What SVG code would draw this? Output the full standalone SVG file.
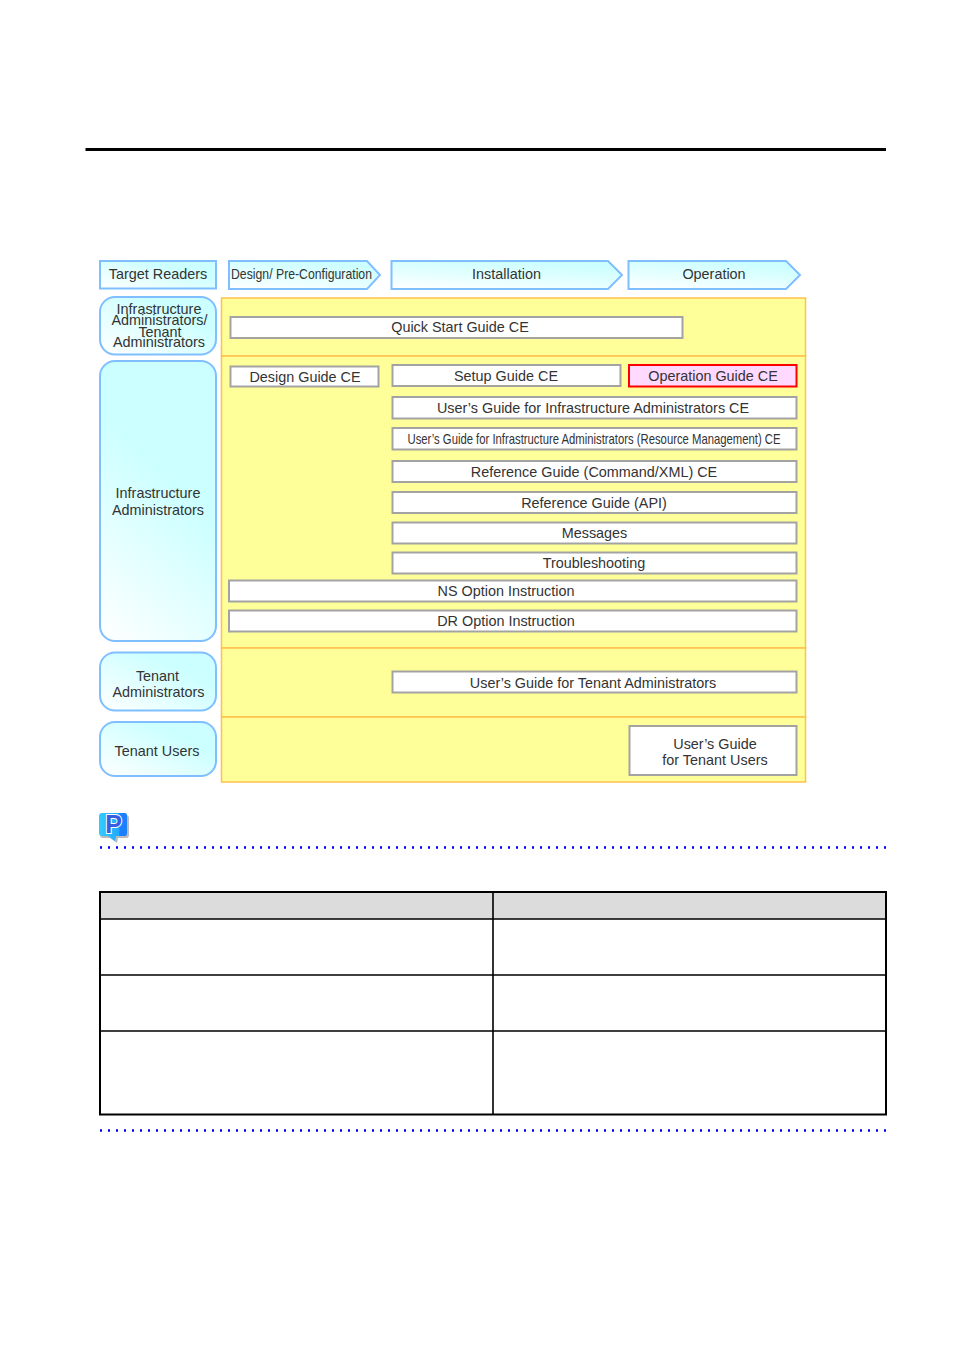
<svg xmlns="http://www.w3.org/2000/svg" width="954" height="1350" viewBox="0 0 954 1350">
<style>
text{font-family:"Liberation Sans",Arial,sans-serif;font-size:14.4px;fill:#333;text-anchor:middle}
.b{fill:#fff;stroke:#a3a3a3;stroke-width:2}
.r{fill:url(#g);stroke:#80bfff;stroke-width:2}
.a{fill:url(#h);stroke:#80bfff;stroke-width:2}
.y{fill:#ffff99;stroke:#ffc04d;stroke-width:1.5}
.d{stroke:#0000ff;stroke-width:2.400;stroke-dasharray:2 6;fill:none}
.t{stroke:#000;fill:none;stroke-width:2}
.l{stroke:#000;fill:none;stroke-width:1.600}
</style>
<defs>
<linearGradient id="g" x1="0" y1="1" x2="1" y2="0"><stop offset="0" stop-color="#ffffff"/><stop offset=".7" stop-color="#ccffff"/></linearGradient>
<linearGradient id="h" x1="0" y1="1" x2=".5" y2="0"><stop offset="0" stop-color="#ffffff"/><stop offset="1" stop-color="#ccffff"/></linearGradient>
<linearGradient id="v" gradientUnits="userSpaceOnUse" x1="100" y1="641" x2="215" y2="526"><stop offset="0" stop-color="#ffffff"/><stop offset="1" stop-color="#ccffff"/></linearGradient>
<linearGradient id="p" x1="0" y1="0" x2="1" y2="0"><stop offset="0" stop-color="#33ccff"/><stop offset=".7" stop-color="#22aaff"/><stop offset=".75" stop-color="#1a80ff"/><stop offset="1" stop-color="#1a80ff"/></linearGradient>
</defs>
<rect width="954" height="1350" fill="#fff"/>
<rect x="85.500" y="148" width="800.500" height="3" fill="#000"/>

<g id="bands">
<rect class="y" x="221.500" y="298" width="584" height="58"/>
<rect class="y" x="221.500" y="356" width="584" height="292"/>
<rect class="y" x="221.500" y="648" width="584" height="69"/>
<rect class="y" x="221.500" y="717" width="584" height="65"/>
</g>

<g id="target-readers"><rect class="r" x="100" y="261" width="116" height="27.500"/><text x="158" y="279">Target Readers</text></g>
<g id="phase-design"><path class="a" d="M229 261H367L380 275L367 289H229Z"/><text x="301.500" y="279" textLength="141" lengthAdjust="spacingAndGlyphs">Design/ Pre-Configuration</text></g>
<g id="phase-installation"><path class="a" d="M391.500 261H608L622 275L608 289H391.500Z"/><text x="506.500" y="279">Installation</text></g>
<g id="phase-operation"><path class="a" d="M628.500 261H786L800 275L786 289H628.500Z"/><text x="714" y="279">Operation</text></g>

<g id="reader-both"><rect class="r" x="100" y="297" width="116" height="57.500" rx="15"/>
<text x="159" y="314">Infrastructure</text><text x="159.500" y="325">Administrators/</text><text x="160" y="337">Tenant</text><text x="159" y="347">Administrators</text></g>
<g id="reader-infra"><rect x="100" y="361" width="116" height="280" rx="15" fill="url(#v)" stroke="#80bfff" stroke-width="2"/>
<text x="158" y="498">Infrastructure</text><text x="158" y="515">Administrators</text></g>
<g id="reader-tenant-admin"><rect class="r" x="100" y="652.500" width="116" height="58" rx="15"/>
<text x="157.500" y="681">Tenant</text><text x="158.500" y="697">Administrators</text></g>
<g id="reader-tenant-users"><rect class="r" x="100" y="722" width="116" height="54" rx="15"/><text x="157" y="756">Tenant Users</text></g>

<g id="quick-start"><rect class="b" x="230.500" y="317" width="452" height="21"/><text x="460" y="332">Quick Start Guide CE</text></g>
<g id="design-guide"><rect class="b" x="230.500" y="366.500" width="148" height="20"/><text x="305" y="382">Design Guide CE</text></g>
<g id="setup-guide"><rect class="b" x="392.500" y="365" width="228" height="21"/><text x="506" y="381">Setup Guide CE</text></g>
<g id="operation-guide"><rect x="629" y="365" width="167.500" height="21.500" fill="#ffd9ff" stroke="#f00" stroke-width="2"/><text x="713" y="381">Operation Guide CE</text></g>
<g id="ug-infra"><rect class="b" x="392.500" y="397" width="404" height="21.500"/><text x="593" y="413">User’s Guide for Infrastructure Administrators CE</text></g>
<g id="ug-infra-rm"><rect class="b" x="392.500" y="428" width="404" height="21.500"/><text x="594" y="444" textLength="373" lengthAdjust="spacingAndGlyphs">User’s Guide for Infrastructure Administrators (Resource Management) CE</text></g>
<g id="ref-cmd"><rect class="b" x="392.500" y="461" width="404" height="21"/><text x="594" y="477">Reference Guide (Command/XML) CE</text></g>
<g id="ref-api"><rect class="b" x="392.500" y="492" width="404" height="21"/><text x="594" y="507.500">Reference Guide (API)</text></g>
<g id="messages"><rect class="b" x="392.500" y="522.500" width="404" height="21"/><text x="594.500" y="538">Messages</text></g>
<g id="troubleshooting"><rect class="b" x="392.500" y="552.500" width="404" height="21"/><text x="594" y="568">Troubleshooting</text></g>
<g id="ns-option"><rect class="b" x="229" y="580.500" width="567.500" height="21"/><text x="506" y="596">NS Option Instruction</text></g>
<g id="dr-option"><rect class="b" x="229" y="610.500" width="567.500" height="21"/><text x="506" y="625.500">DR Option Instruction</text></g>
<g id="ug-tenant-admin"><rect class="b" x="392.500" y="671.500" width="404" height="21"/><text x="593" y="688">User’s Guide for Tenant Administrators</text></g>
<g id="ug-tenant-users"><rect class="b" x="629.500" y="726" width="167" height="49"/><text x="715" y="749">User’s Guide</text><text x="715" y="765">for Tenant Users</text></g>

<g id="point-icon">
<path d="M102 814H125Q128 814 128 817V834Q128 837 125 837H117L116 842L109 837H102Q99 837 99 834V817Q99 814 102 814Z" fill="#777" opacity=".5" transform="translate(1 1)"/>
<path d="M102 813H125Q127 813 127 816V833Q127 836 125 836H116L115 841L108 836H102Q99 836 99 833V816Q99 813 102 813Z" fill="url(#p)"/>
<text x="113.500" y="833" style="font-size:25px;font-weight:bold;fill:#3a5ce0;stroke:#fff;stroke-width:2;paint-order:stroke">P</text>
</g>
<line class="d" x1="100" y1="847.500" x2="887" y2="847.500"/>

<g id="table">
<rect x="100" y="892" width="786" height="27" fill="#dcdcdc"/>
<rect x="100" y="892" width="786" height="222.500" class="t"/>
<path class="l" d="M100 919H886M100 975H886M100 1031H886M493 892V1114.500"/>
</g>
<line class="d" x1="100" y1="1130.500" x2="887" y2="1130.500"/>
</svg>
